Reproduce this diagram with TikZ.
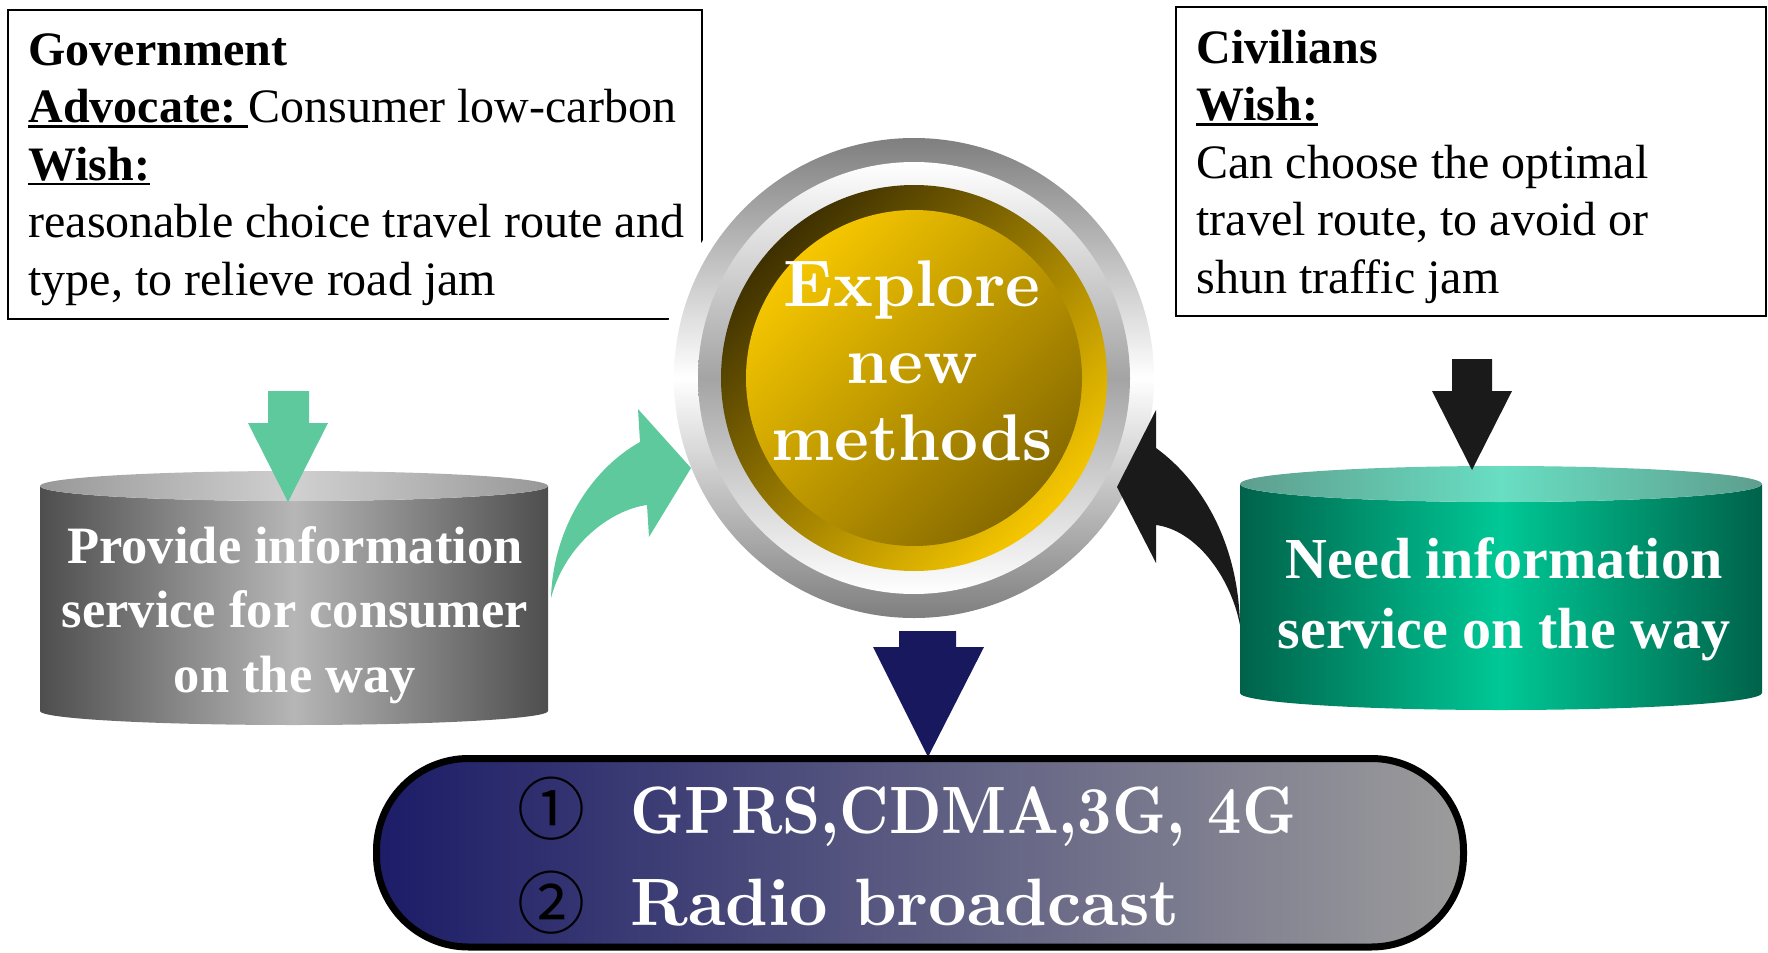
\documentclass[tikz,border=0pt]{standalone}
\usepackage{fontspec}
\usepackage{graphicx}
\newfontfamily\timesfont{Liberation Serif}
\newfontfamily\symfont{Noto Sans CJK JP}
\newfontfamily\heavyserif{lmroman10-bold}[Extension=.otf]

% underline with a fixed rule just below the baseline
\newcommand{\ulinetext}[1]{\setbox0\hbox{#1}\rlap{\rule[-2.6pt]{\wd0}{1.3pt}}\box0}

\definecolor{arrowgreen}{HTML}{5DC99D}
\definecolor{arrowblack}{HTML}{1A1A1A}
\definecolor{arrownavy}{HTML}{18185E}
\definecolor{ringgray}{HTML}{7F7F7F}
\definecolor{ringgraylight}{HTML}{A4A4A4}
\definecolor{golddark}{HTML}{3E3000}
\definecolor{goldbright}{HTML}{F6C700}
\definecolor{goldshadow}{HTML}{876A00}
\definecolor{cylgrayedge}{HTML}{4E4E4E}
\definecolor{cylgraymid}{HTML}{B6B6B6}
\definecolor{topgrayedge}{HTML}{989898}
\definecolor{topgraymid}{HTML}{D0D0D0}
\definecolor{cylgreenedge}{HTML}{00624A}
\definecolor{cylgreenmid}{HTML}{00C896}
\definecolor{topgreenedge}{HTML}{5E9E8E}
\definecolor{topgreenmid}{HTML}{68DEC2}
\definecolor{boxnavy}{HTML}{1C1C68}
\definecolor{boxmid}{HTML}{77778A}
\definecolor{boxgray}{HTML}{9C9C9C}

\tikzset{
  framebox/.style={draw=black, line width=1pt, inner sep=0pt, outer sep=0pt, anchor=north west},
  infotext/.style={anchor=base west, align=left, inner sep=0pt,
    font=\timesfont\fontsize{24}{28.75}\selectfont},
  cyltext/.style={anchor=base, align=center, inner sep=0pt, text=white},
  techtext/.style={anchor=base west, inner sep=0pt, text=white,
    font=\heavyserif\fontsize{33.5}{40}\selectfont},
  digit/.style={inner sep=0pt, font=\symfont\fontsize{34}{34}\selectfont},
  greenarrow/.style={fill=arrowgreen},
  blackarrow/.style={fill=arrowblack},
  navyarrow/.style={fill=arrownavy},
}

\begin{document}
\begin{tikzpicture}[x=0.5pt, y=-0.5pt]
\useasboundingbox (0,0) rectangle (1768,953);

% --- the two framed statements (text nodes are placed by their last baseline) ---
\node[framebox, minimum width=347pt, minimum height=154.5pt] (govbox) at (8,10) {};
\node[infotext] (govtext) at (28,295)
  {\textbf{Government}\\
   \textbf{\ulinetext{Advocate:\ }}Consumer low-carbon\\
   \textbf{\ulinetext{Wish:}}\\
   reasonable choice travel route and\\
   type, to relieve road jam};

\node[framebox, minimum width=295pt, minimum height=154.5pt] (civbox) at (1176,7) {};
\node[infotext] (civtext) at (1196,293)
  {\textbf{Civilians}\\
   \textbf{\ulinetext{Wish:}}\\
   Can choose the optimal\\
   travel route, to avoid or\\
   shun traffic jam};

% --- central button ---
\coordinate (hub) at (914,378);
\fill[white] (hub) circle[radius=252];
\shade[top color=ringgray, bottom color=ringgray, middle color=white] (hub) circle[radius=240];
\shade[top color=white, bottom color=white, middle color=ringgraylight] (hub) circle[radius=216];
\shade[top color=golddark, bottom color=goldbright, shading angle=45] (hub) circle[radius=193];
\shade[top color=goldbright, bottom color=goldshadow, shading angle=45] (hub) circle[radius=168];
\node[anchor=base, align=center, inner sep=0pt, text=white,
      font=\heavyserif\fontsize{33}{38.5}\selectfont] (explore) at (912,460)
  {Explore\\new\\methods};

% --- left cylinder ---
\shade[left color=cylgrayedge, right color=cylgrayedge, middle color=cylgraymid]
  (40,486) -- (40,711) arc[start angle=180, end angle=0, x radius=254, y radius=14]
  -- (548,486) arc[start angle=0, end angle=180, x radius=254, y radius=15] -- cycle;
\shade[left color=topgrayedge, right color=topgrayedge, middle color=topgraymid]
  (294,486) ellipse[x radius=254, y radius=15];
\node[cyltext, font=\timesfont\bfseries\fontsize{26.25}{32.25}\selectfont] (provide) at (295,692)
  {Provide information\\service for consumer\\on the way};

% --- right cylinder ---
\shade[left color=cylgreenedge, right color=cylgreenedge, middle color=cylgreenmid]
  (1240,484) -- (1240,693) arc[start angle=180, end angle=0, x radius=261, y radius=17]
  -- (1762,484) arc[start angle=0, end angle=180, x radius=261, y radius=18] -- cycle;
\shade[left color=topgreenedge, right color=topgreenedge, middle color=topgreenmid]
  (1501,484) ellipse[x radius=261, y radius=18];
\node[cyltext, font=\timesfont\bfseries\fontsize{29}{35}\selectfont] (need) at (1504,648)
  {Need information\\service on the way};

% --- straight block arrows ---
\fill[greenarrow] (268,391) -- (309,391) -- (309,423) -- (328,423) -- (288,502)
  -- (248,423) -- (268,423) -- cycle;
\fill[blackarrow] (1452,359) -- (1492,359) -- (1492,391) -- (1512,391) -- (1472,470)
  -- (1432,391) -- (1452,391) -- cycle;
\fill[navyarrow] (899,631) -- (956,631) -- (956,647) -- (984,647) -- (928,757)
  -- (873,647) -- (899,647) -- cycle;

% --- curved arrows into the button ---
\fill[greenarrow] (551,598) .. controls (553,530) and (590,470) .. (640,442)
  -- (638,409) -- (691,468) -- (649,537) -- (647,505)
  .. controls (610,510) and (565,545) .. (551,598) -- cycle;
\fill[blackarrow] (1156,448) .. controls (1200,480) and (1238,540) .. (1240,625)
  .. controls (1230,575) and (1195,530) .. (1156,525)
  -- (1156,563) -- (1117,487) -- (1156,410) -- cycle;

% --- channels box ---
\node[draw=black, line width=3.5pt, rounded corners=46pt, inner sep=0pt, outer sep=0pt,
      minimum width=543.5pt, minimum height=94.25pt,
      left color=boxnavy, middle color=boxmid, right color=boxgray] (tech) at (920,852.75) {};
\node[digit] (one) at (551,809) {①};
\node[digit] (two) at (551,902.5) {②};
\node[techtext] (gprs) at (630,833) {\scalebox{0.89}[1]{GPRS,CDMA,3G, 4G}};
\node[techtext] (radio) at (630,925) {Radio broadcast};
\end{tikzpicture}
\end{document}
